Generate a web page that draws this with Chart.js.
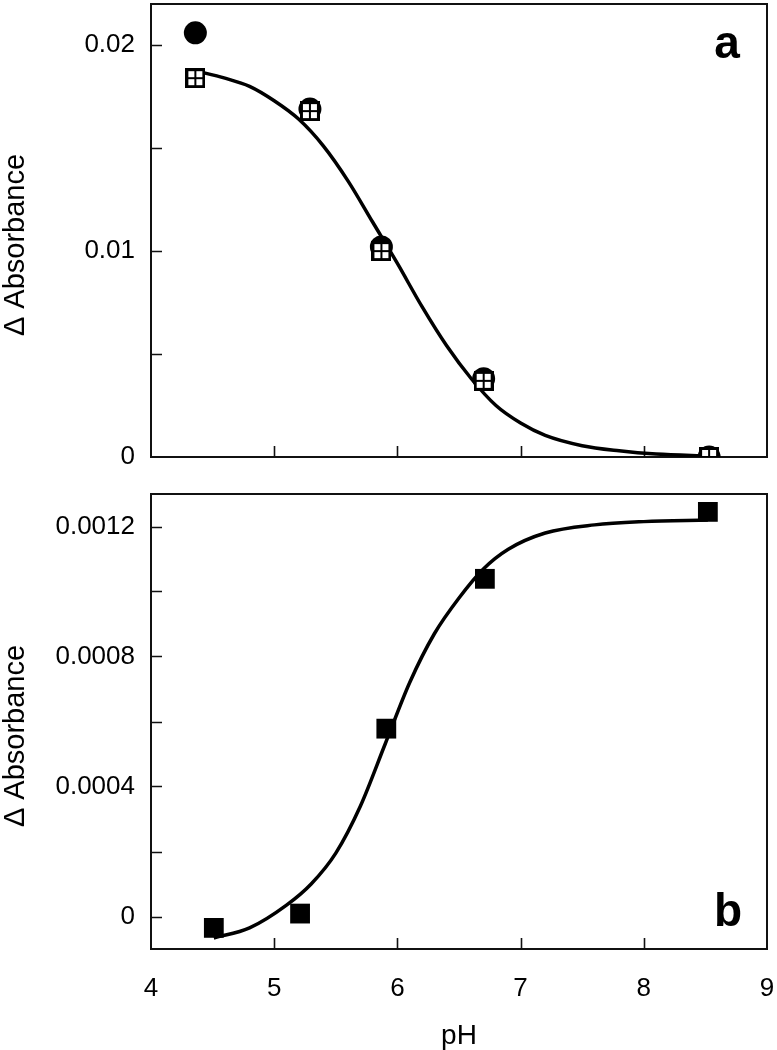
<!DOCTYPE html>
<html>
<head>
<meta charset="utf-8">
<script src="https://cdn.jsdelivr.net/npm/chart.js@4.4.1/dist/chart.umd.min.js"></script>
<style>
  html, body { margin: 0; padding: 0; background: #fff; overflow: hidden; width: 777px; height: 1050px; }
  canvas { position: absolute; left: 0; }
  #cA { top: 0; }
  #cB { top: 480px; }
</style>
</head>
<body>
<canvas id="cA" width="777" height="470"></canvas>
<canvas id="cB" width="777" height="580"></canvas>
<script>
// ---------- data ----------
const xTicks = [4, 5, 6, 7, 8, 9];
const xTickLabels = ['4', '5', '6', '7', '8', '9'];

const yTicksA = [0, 0.005, 0.01, 0.015, 0.02];
const yTickLabelsA = ['0', '', '0.01', '', '0.02'];

const yTicksB = [0, 0.0002, 0.0004, 0.0006, 0.0008, 0.001, 0.0012];
const yTickLabelsB = ['0', '', '0.0004', '', '0.0008', '', '0.0012'];

// panel a
const phA = [4.36, 5.29, 5.87, 6.70, 8.53];
const absA_circles = [0.0206, 0.0169, 0.0102, 0.0038, 0.0000];
const absA_squares = [0.0184, 0.0168, 0.0100, 0.0037, 0.0000];
const fitA_pH  = [4.36, 4.6, 4.8, 5.0, 5.2, 5.4, 5.6, 5.8, 6.0, 6.2, 6.4, 6.6, 6.8, 7.0, 7.2, 7.5, 7.8, 8.1, 8.53];
const fitA_abs = [0.01876, 0.0184, 0.0180, 0.0173, 0.0164, 0.0151, 0.0134, 0.0114, 0.0094, 0.0073, 0.0054, 0.0038, 0.0025, 0.00165, 0.00105, 0.00055, 0.0003, 0.00014, 0.00004];

// panel b
const phB = [4.51, 5.21, 5.91, 6.71, 8.52];
const absB = [-0.000035, 0.000009, 0.000578, 0.001039, 0.001245];
const fitB_pH  = [4.51, 4.8, 5.1, 5.3, 5.5, 5.7, 5.9, 6.1, 6.3, 6.5, 6.7, 6.9, 7.2, 7.6, 8.0, 8.52];
const fitB_abs = [-0.000066, -0.000035, 0.000035, 0.000100, 0.000195, 0.000340, 0.000530, 0.000720, 0.000870, 0.000980, 0.001070, 0.001130, 0.001180, 0.001205, 0.001215, 0.001220];

const yTitle = 'Δ Absorbance';
const xTitle = 'pH';

// ---------- helpers ----------
const FONT = '"Liberation Sans", Arial, Helvetica, sans-serif';
Chart.defaults.color = '#000';
Chart.defaults.font.family = FONT;

function pts(xs, ys) { return xs.map((x, i) => ({ x: x, y: ys[i] })); }
function noPad(s) { s.paddingTop = 0; s.paddingBottom = 0; s.paddingLeft = 0; s.paddingRight = 0; }

// crossed-square marker (white square with a plus inside)
function makeCrossSquare() {
  const c = document.createElement('canvas');
  const s = 20;
  c.width = s; c.height = s;
  const g = c.getContext('2d');
  g.fillStyle = '#000';
  g.fillRect(0, 0, s, s);
  g.fillStyle = '#fff';
  const b = 3, w = 2;
  const m0 = (s - w) / 2, m1 = m0 + w;
  g.fillRect(b, b, m0 - b, m0 - b);
  g.fillRect(m1, b, s - b - m1, m0 - b);
  g.fillRect(b, m1, m0 - b, s - b - m1);
  g.fillRect(m1, m1, s - b - m1, s - b - m1);
  return c;
}
const crossSquare = makeCrossSquare();

const framePlugin = {
  id: 'frameTicks',
  beforeDatasetsDraw(chart, args, opts) {
    const ctx = chart.ctx;
    const a = chart.chartArea;
    const xs = chart.scales.x, ys = chart.scales.y;
    ctx.save();
    ctx.strokeStyle = '#111';
    ctx.lineWidth = 2;
    ctx.strokeRect(a.left, a.top, a.right - a.left, a.bottom - a.top);
    ctx.lineWidth = 1.6;
    const L = 11;
    ctx.beginPath();
    ys.ticks.forEach(t => {
      const p = Math.round(ys.getPixelForValue(t.value)) + 0.5;
      if (p <= a.top + 2 || p >= a.bottom - 2) return;
      ctx.moveTo(a.left, p); ctx.lineTo(a.left + L, p);
    });
    xTicks.forEach(v => {
      const p = Math.round(xs.getPixelForValue(v)) + 0.5;
      if (p <= a.left + 2 || p >= a.right - 2) return;
      ctx.moveTo(p, a.bottom); ctx.lineTo(p, a.bottom - L);
    });
    ctx.stroke();
    ctx.restore();
  },
  afterDraw(chart, args, opts) {
    if (!opts.letter) return;
    const ctx = chart.ctx;
    ctx.save();
    ctx.fillStyle = '#000';
    ctx.font = 'bold 46px ' + FONT;
    ctx.textAlign = 'center';
    ctx.textBaseline = 'alphabetic';
    ctx.fillText(opts.letter, opts.lx, opts.ly);
    ctx.restore();
  }
};

function yScale(min, max, ticks, labels) {
  return {
    type: 'linear', min: min, max: max,
    afterBuildTicks: s => { s.ticks = ticks.map(v => ({ value: v })); },
    afterFit: s => { s.width = 151; noPad(s); },
    grid: { display: false, drawTicks: false },
    border: { display: false },
    ticks: {
      padding: 16,
      font: { size: 26, family: FONT },
      color: '#000',
      callback: (v, i) => labels[i]
    },
    title: {
      display: true, text: yTitle + '\u2002\u2002', color: '#000',
      font: { size: 29, family: FONT },
      padding: { top: -1, bottom: 0 }
    }
  };
}

// ---------- panel a ----------
new Chart(document.getElementById('cA'), {
  type: 'scatter',
  data: {
    datasets: [
      { label: 'squares', data: pts(phA, absA_squares), pointStyle: crossSquare, pointRadius: 10, showLine: false },
      { label: 'circles', data: pts(phA, absA_circles), pointStyle: 'circle', pointRadius: 11.5,
        backgroundColor: '#000', borderWidth: 0, showLine: false },
      { label: 'fit', data: pts(fitA_pH, fitA_abs), showLine: true, pointRadius: 0,
        borderColor: '#000', borderWidth: 3.5, cubicInterpolationMode: 'monotone', fill: false }
    ]
  },
  options: {
    responsive: false, animation: false, devicePixelRatio: 1,
    layout: { autoPadding: false, padding: { left: 0, top: 4, right: 10, bottom: 13 } },
    plugins: { legend: { display: false }, tooltip: { enabled: false },
               frameTicks: { letter: 'a', lx: 727, ly: 58 } },
    scales: {
      x: { type: 'linear', min: 4, max: 9, display: false, afterFit: s => { s.height = 0; noPad(s); } },
      y: yScale(0, 0.022, yTicksA, yTickLabelsA)
    }
  },
  plugins: [framePlugin]
});

// ---------- panel b ----------
new Chart(document.getElementById('cB'), {
  type: 'scatter',
  data: {
    datasets: [
      { label: 'squares', data: pts(phB, absB), pointStyle: 'rect', pointRadius: 14,
        backgroundColor: '#000', borderWidth: 0, showLine: false },
      { label: 'fit', data: pts(fitB_pH, fitB_abs), showLine: true, pointRadius: 0,
        borderColor: '#000', borderWidth: 3.5, cubicInterpolationMode: 'monotone', fill: false }
    ]
  },
  options: {
    responsive: false, animation: false, devicePixelRatio: 1,
    layout: { autoPadding: false, padding: { left: 0, top: 14, right: 10, bottom: 0 } },
    plugins: { legend: { display: false }, tooltip: { enabled: false },
               frameTicks: { letter: 'b', lx: 728, ly: 446 } },
    scales: {
      x: {
        type: 'linear', min: 4, max: 9,
        afterBuildTicks: s => { s.ticks = xTicks.map(v => ({ value: v })); },
        afterFit: s => { s.height = 111; noPad(s); },
        grid: { display: false, drawTicks: false },
        border: { display: false },
        ticks: { padding: 24, font: { size: 26, family: FONT }, color: '#000', maxRotation: 0,
                 callback: (v, i) => xTickLabels[i] },
        title: { display: true, text: xTitle, color: '#000', font: { size: 28, family: FONT },
                 padding: { top: 0, bottom: 7 } }
      },
      y: yScale(-0.0001, 0.0013, yTicksB, yTickLabelsB)
    }
  },
  plugins: [framePlugin]
});
</script>
</body>
</html>
